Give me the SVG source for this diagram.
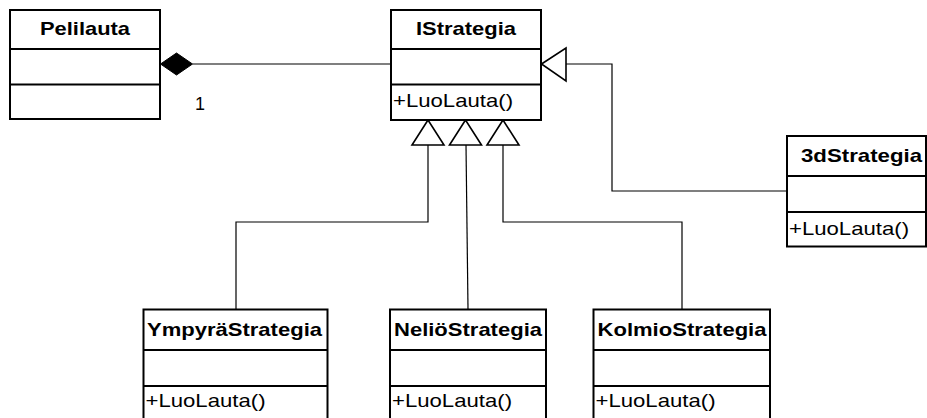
<svg xmlns="http://www.w3.org/2000/svg" width="927" height="418" viewBox="0 0 927 418">
<style>
.box{fill:#fff;stroke:#000;stroke-width:2}
.sep{stroke:#000;stroke-width:2}
.t{font-family:"Liberation Sans",Arial,sans-serif;font-size:19px;fill:#000}
.b{font-weight:bold}
.c{fill:none;stroke:#000;stroke-width:1.2}
.tri{fill:#fff;stroke:#000;stroke-width:1.6}
</style>
<rect width="927" height="418" fill="#fff"/>
<g id="connectors">
<line class="c" x1="192.5" y1="64" x2="391" y2="64"/>
<polygon points="160.5,64 176.5,53 192.5,64 176.5,75" fill="#000" stroke="#000" stroke-width="1"/>
<text class="t" x="195" y="110" textLength="10" lengthAdjust="spacingAndGlyphs">1</text>
<polyline class="c" points="566,64 612,64 612,191 787,191"/>
<polygon class="tri" points="541.5,64 566,48 566,81"/>
<polyline class="c" points="428,145 428,222 236,222 236,309"/>
<polygon class="tri" points="428,120 412,145 444,145"/>
<polyline class="c" points="466,145 468,309"/>
<polygon class="tri" points="465.5,120 449.5,145 481.5,145"/>
<polyline class="c" points="503,145 503,222 682,222 682,309"/>
<polygon class="tri" points="503,120 487,145 519,145"/>
</g>
<g id="Pelilauta">
<rect class="box" x="10" y="10" width="150" height="109"/>
<line class="sep" x1="10" y1="49" x2="160" y2="49"/>
<line class="sep" x1="10" y1="84.5" x2="160" y2="84.5"/>
<text class="t b" x="40" y="35" textLength="90" lengthAdjust="spacingAndGlyphs">Pelilauta</text>
</g>
<g id="IStrategia">
<rect class="box" x="391" y="10" width="150" height="110"/>
<line class="sep" x1="391" y1="49" x2="541" y2="49"/>
<line class="sep" x1="391" y1="84.5" x2="541" y2="84.5"/>
<text class="t b" x="416" y="35" textLength="100" lengthAdjust="spacingAndGlyphs">IStrategia</text>
<text class="t" x="393" y="107" textLength="120" lengthAdjust="spacingAndGlyphs">+LuoLauta()</text>
</g>
<g id="3dStrategia">
<rect class="box" x="787" y="136" width="139" height="110.5"/>
<line class="sep" x1="787" y1="176" x2="926" y2="176"/>
<line class="sep" x1="787" y1="212" x2="926" y2="212"/>
<text class="t b" x="801" y="161.5" textLength="121" lengthAdjust="spacingAndGlyphs">3dStrategia</text>
<text class="t" x="789" y="235" textLength="120" lengthAdjust="spacingAndGlyphs">+LuoLauta()</text>
</g>
<g id="YmpyraStrategia">
<rect class="box" x="143.5" y="309.5" width="184" height="120"/>
<line class="sep" x1="143.5" y1="350" x2="327.5" y2="350"/>
<line class="sep" x1="143.5" y1="386" x2="327.5" y2="386"/>
<text class="t b" x="147" y="335.5" textLength="175" lengthAdjust="spacingAndGlyphs">YmpyräStrategia</text>
<text class="t" x="145.5" y="407" textLength="120" lengthAdjust="spacingAndGlyphs">+LuoLauta()</text>
</g>
<g id="NelioStrategia">
<rect class="box" x="390" y="309.5" width="156" height="120"/>
<line class="sep" x1="390" y1="350" x2="546" y2="350"/>
<line class="sep" x1="390" y1="386" x2="546" y2="386"/>
<text class="t b" x="394" y="335.5" textLength="148" lengthAdjust="spacingAndGlyphs">NeliöStrategia</text>
<text class="t" x="392" y="407" textLength="120" lengthAdjust="spacingAndGlyphs">+LuoLauta()</text>
</g>
<g id="KolmioStrategia">
<rect class="box" x="593.5" y="309.5" width="176.5" height="120"/>
<line class="sep" x1="593.5" y1="350" x2="770" y2="350"/>
<line class="sep" x1="593.5" y1="386" x2="770" y2="386"/>
<text class="t b" x="597.5" y="335.5" textLength="169" lengthAdjust="spacingAndGlyphs">KolmioStrategia</text>
<text class="t" x="595.5" y="407" textLength="120" lengthAdjust="spacingAndGlyphs">+LuoLauta()</text>
</g>
</svg>
